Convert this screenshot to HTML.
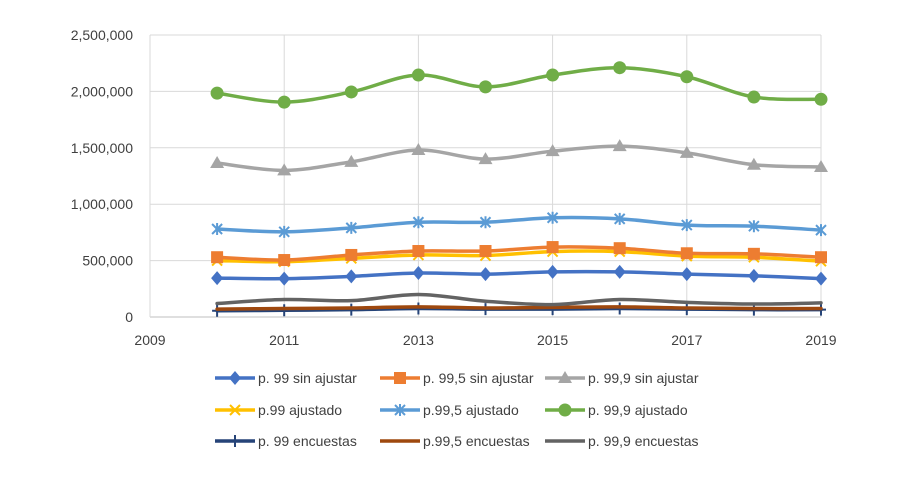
<!DOCTYPE html>
<html><head><meta charset="utf-8"><style>
body{margin:0;background:#fff;font-family:"Liberation Sans",sans-serif;}
svg text{font-family:"Liberation Sans",sans-serif;fill:#404040;}
</style></head><body>
<svg id="c" width="920" height="473"></svg>
<script>
const years=[2010,2011,2012,2013,2014,2015,2016,2017,2018,2019];
const xTicks=[2009,2011,2013,2015,2017,2019];
const yTicks=[0,500000,1000000,1500000,2000000,2500000];
const p99sin=[345000,340000,360000,390000,380000,400000,400000,380000,365000,340000];
const p995sin=[530000,505000,550000,585000,585000,620000,610000,565000,560000,530000];
const p999sin=[1365000,1300000,1375000,1480000,1400000,1470000,1515000,1455000,1350000,1330000];
const p99aj=[500000,490000,520000,550000,545000,580000,580000,540000,530000,495000];
const p995aj=[780000,755000,790000,840000,840000,880000,870000,815000,805000,770000];
const p999aj=[1985000,1905000,1995000,2145000,2040000,2145000,2210000,2130000,1950000,1930000];
const p99enc=[55000,60000,65000,75000,70000,70000,75000,70000,65000,65000];
const p995enc=[70000,75000,80000,90000,80000,85000,90000,80000,75000,75000];
const p999enc=[120000,155000,145000,200000,140000,110000,155000,130000,115000,125000];
const NS="http://www.w3.org/2000/svg";
const svg=document.getElementById('c');
const X=v=>150+(v-2009)*67.1, Y=v=>317-v/2500000*282;
function el(t,a,p){const e=document.createElementNS(NS,t);for(const k in a)e.setAttribute(k,a[k]);(p||svg).appendChild(e);return e;}
const grid=el('g',{});


yTicks.forEach(v=>{
 el('line',{x1:150,x2:821,y1:Y(v),y2:Y(v),stroke:v?'#d9d9d9':'#bfbfbf','stroke-width':1},grid);
 const t=el('text',{x:133,y:Y(v)+5,'text-anchor':'end','font-size':14});
 t.textContent=v.toLocaleString('en-US');
 
 
});
xTicks.forEach(v=>{
 el('line',{x1:X(v),x2:X(v),y1:35,y2:317,stroke:'#d9d9d9','stroke-width':1},grid);
 const t=el('text',{x:X(v),y:345,'text-anchor':'middle','font-size':14});
 t.textContent=v;
 
 
});
function path(vals){
 const p=vals.map((v,i)=>[X(years[i]),Y(v)]);
 let d='M'+p[0][0]+','+p[0][1];
 for(let i=0;i<p.length-1;i++){
  const p0=p[i-1]||p[i],p1=p[i],p2=p[i+1],p3=p[i+2]||p2;
  const c1=[p1[0]+(p2[0]-p0[0])/6,p1[1]+(p2[1]-p0[1])/6];
  const c2=[p2[0]-(p3[0]-p1[0])/6,p2[1]-(p3[1]-p1[1])/6];
  d+=`C${c1[0]},${c1[1]} ${c2[0]},${c2[1]} ${p2[0]},${p2[1]}`;
 }
 return d;
}
function marker(g,type,x,y,c){
 if(type==='diamond')el('polygon',{points:`${x},${y-7} ${x+6},${y} ${x},${y+7} ${x-6},${y}`,fill:c},g);
 else if(type==='square')el('rect',{x:x-6,y:y-6,width:12,height:12,fill:c},g);
 else if(type==='triangle')el('polygon',{points:`${x},${y-7} ${x+7},${y+5} ${x-7},${y+5}`,fill:c},g);
 else if(type==='x'){el('path',{d:`M${x-5},${y-5}L${x+5},${y+5}M${x+5},${y-5}L${x-5},${y+5}`,stroke:c,'stroke-width':2},g);}
 else if(type==='star'){el('path',{d:`M${x-5},${y-5}L${x+5},${y+5}M${x+5},${y-5}L${x-5},${y+5}M${x},${y-6}L${x},${y+6}`,stroke:c,'stroke-width':2},g);}
 else if(type==='circle')el('circle',{cx:x,cy:y,r:6.5,fill:c},g);
 else if(type==='plus')el('path',{d:`M${x},${y-6}L${x},${y+6}M${x-5},${y}L${x+5},${y}`,stroke:c,'stroke-width':2},g);
}
const series=[
 {n:'p. 99 sin ajustar',d:p99sin,c:'#4472c4',m:'diamond',id:'p99-sin-ajustar'},
 {n:'p. 99,5 sin ajustar',d:p995sin,c:'#ed7d31',m:'square',id:'p995-sin-ajustar'},
 {n:'p. 99,9 sin ajustar',d:p999sin,c:'#a5a5a5',m:'triangle',id:'p999-sin-ajustar'},
 {n:'p.99 ajustado',d:p99aj,c:'#ffc000',m:'x',id:'p99-ajustado'},
 {n:'p.99,5 ajustado',d:p995aj,c:'#5b9bd5',m:'star',id:'p995-ajustado'},
 {n:'p. 99,9 ajustado',d:p999aj,c:'#70ad47',m:'circle',id:'p999-ajustado'},
 {n:'p. 99 encuestas',d:p99enc,c:'#264478',m:'plus',id:'p99-encuestas'},
 {n:'p.99,5 encuestas',d:p995enc,c:'#9e480e',m:null,id:'p995-encuestas'},
 {n:'p. 99,9 encuestas',d:p999enc,c:'#636363',m:null,id:'p999-encuestas'}
];
const order=[6,7,8,0,3,1,4,2,5];
order.forEach(i=>{
 const s=series[i];
 const g=el('g',{});
 
 
 el('path',{d:path(s.d),fill:'none',stroke:s.c,'stroke-width':3.5,'stroke-linecap':'round'},g);
 if(s.m)s.d.forEach((v,j)=>marker(g,s.m,X(years[j]),Y(v),s.c));
});
series.forEach((s,i)=>{
 const col=i%3,row=Math.floor(i/3);
 const lx=[215,380,545][col],ly=[378,410,441][row];
 const g=el('g',{});
 
 
 el('line',{x1:lx,x2:lx+40,y1:ly,y2:ly,stroke:s.c,'stroke-width':3.5},g);
 if(s.m)marker(g,s.m,lx+20,ly,s.c);
 const t=el('text',{x:lx+43,y:ly+5,'font-size':14},g);
 t.textContent=s.n;
});
</script>
</body></html>
